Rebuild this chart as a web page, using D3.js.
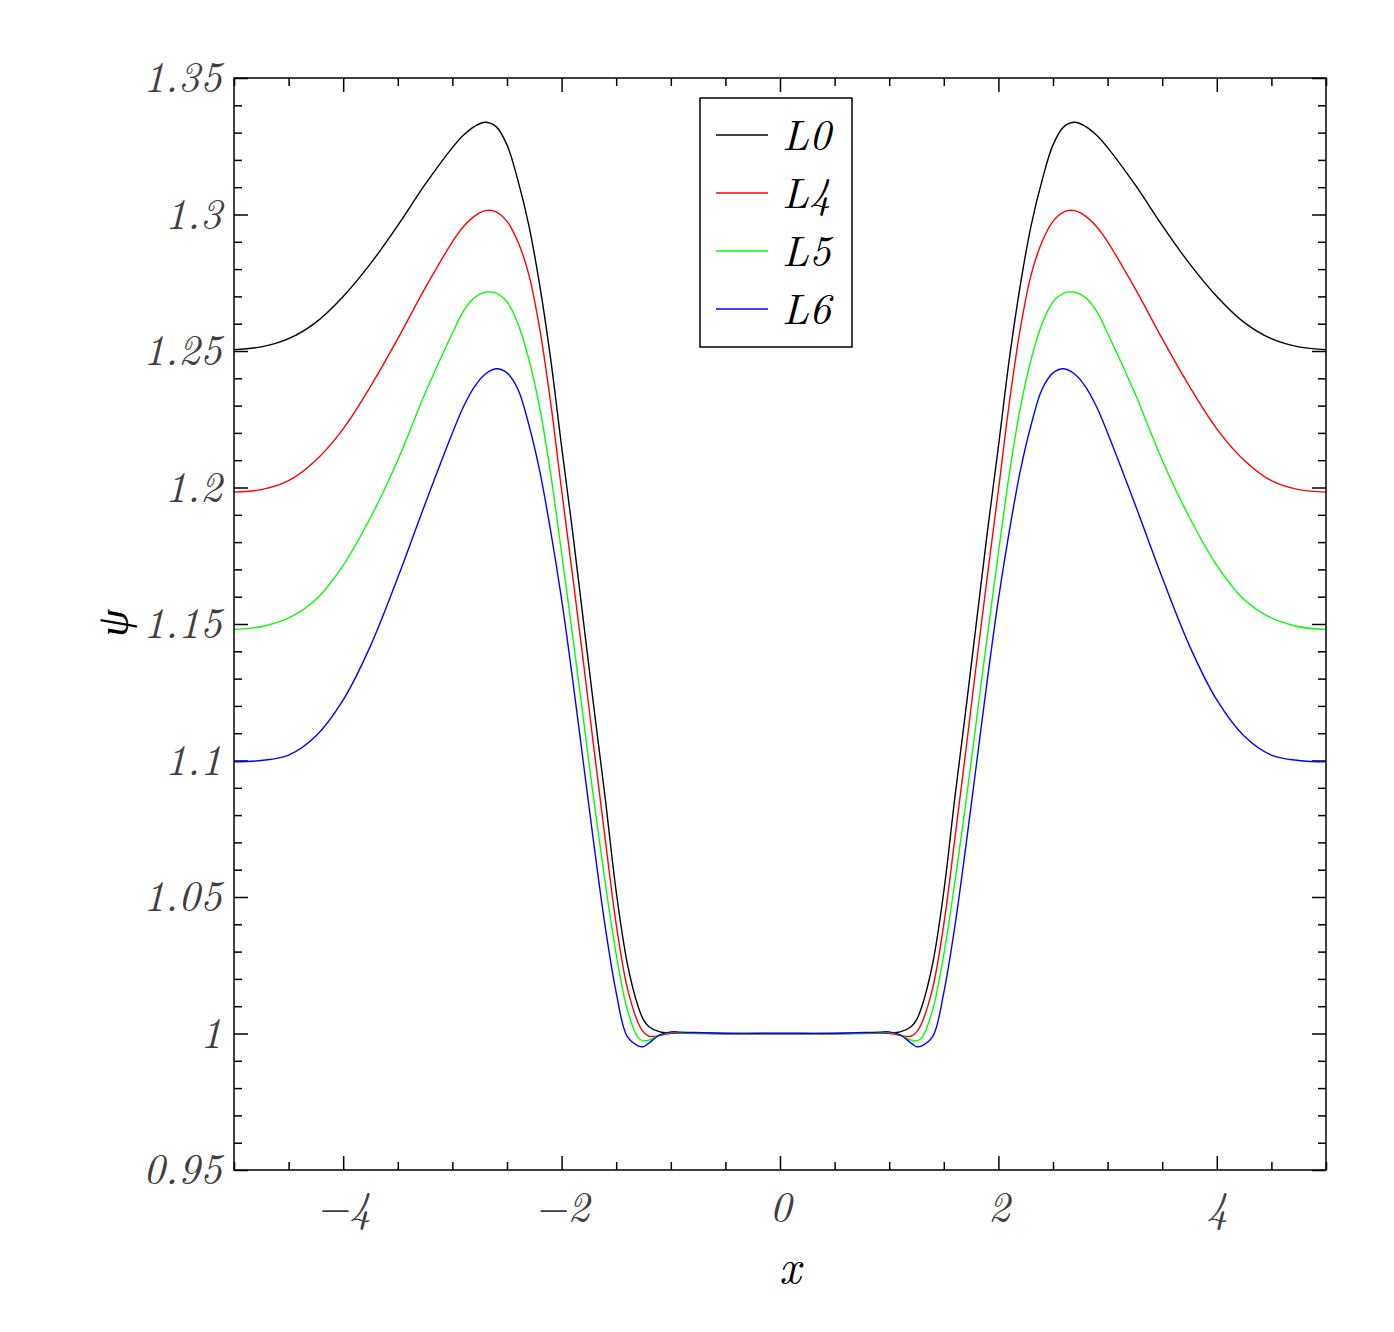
<!DOCTYPE html>
<html>
<head>
<meta charset="utf-8">
<script src="https://cdn.jsdelivr.net/npm/d3@7"></script>
<style>
  body { margin: 0; background: #fff; }
</style>
</head>
<body>
<div id="vis"></div>
<script>
// values
let xs = [-5, -4.75, -4.5, -4.25, -4, -3.75, -3.5, -3.25, -3, -2.9, -2.8, -2.7, -2.6, -2.5, -2.4, -2.3, -2.2, -2.1,
  -2, -1.9, -1.8, -1.7, -1.6, -1.5, -1.4, -1.3, -1.25, -1.2, -1.1, -1, -0.9, -0.5, 0, 0.5,
  0.9, 1, 1.1, 1.2, 1.25, 1.3, 1.4, 1.5, 1.6, 1.7, 1.8, 1.9, 2,
  2.1, 2.2, 2.3, 2.4, 2.5, 2.6, 2.7, 2.8, 2.9, 3, 3.25, 3.5, 3.75, 4, 4.25, 4.5, 4.75, 5]

let l0 = [1.2505, 1.2515, 1.2545, 1.2605, 1.2700, 1.2820, 1.2960, 1.3110, 1.3245, 1.3290, 1.3322, 1.3338, 1.3322, 1.3255, 1.3125, 1.2960, 1.2740, 1.2470,
  1.2150, 1.1840, 1.1510, 1.1180, 1.0860, 1.0520, 1.0260, 1.0100, 1.0050, 1.0025, 1.0006, 1.0002, 1.0001, 1.0000, 1.0000, 1.0000,
  1.0001, 1.0002, 1.0006, 1.0025, 1.0050, 1.0100, 1.0260, 1.0520, 1.0860, 1.1180, 1.1510, 1.1840, 1.2150,
  1.2470, 1.2740, 1.2960, 1.3125, 1.3255, 1.3322, 1.3338, 1.3322, 1.3290, 1.3245, 1.3110, 1.2960, 1.2820, 1.2700, 1.2605, 1.2545, 1.2515, 1.2505]

let l4 = [1.1983, 1.1992, 1.2025, 1.2100, 1.2215, 1.2370, 1.2545, 1.2730, 1.2900, 1.2955, 1.2993, 1.3014, 1.3010, 1.2975, 1.2900, 1.2780, 1.2580, 1.2310,
  1.1990, 1.1680, 1.1360, 1.1030, 1.0710, 1.0400, 1.0170, 1.0040, 1.0005, 0.9990, 0.9993, 1.0001, 1.0002, 1.0000, 1.0000, 1.0000,
  1.0002, 1.0001, 0.9993, 0.9990, 1.0005, 1.0040, 1.0170, 1.0400, 1.0710, 1.1030, 1.1360, 1.1680, 1.1990,
  1.2310, 1.2580, 1.2780, 1.2900, 1.2975, 1.3010, 1.3014, 1.2993, 1.2955, 1.2900, 1.2730, 1.2545, 1.2370, 1.2215, 1.2100, 1.2025, 1.1992, 1.1983]

let l5 = [1.1480, 1.1490, 1.1522, 1.1590, 1.1715, 1.1890, 1.2100, 1.2345, 1.2565, 1.2645, 1.2695, 1.2715, 1.2712, 1.2680, 1.2600, 1.2470, 1.2290, 1.2050,
  1.1760, 1.1460, 1.1150, 1.0840, 1.0550, 1.0290, 1.0090, 0.9985, 0.9973, 0.9976, 0.9995, 1.0004, 1.0003, 1.0000, 1.0000, 1.0000,
  1.0003, 1.0004, 0.9995, 0.9976, 0.9973, 0.9985, 1.0090, 1.0290, 1.0550, 1.0840, 1.1150, 1.1460, 1.1760,
  1.2050, 1.2290, 1.2470, 1.2600, 1.2680, 1.2712, 1.2715, 1.2695, 1.2645, 1.2565, 1.2345, 1.2100, 1.1890, 1.1715, 1.1590, 1.1522, 1.1490, 1.1480]

let l6 = [1.0995, 1.1000, 1.1020, 1.1090, 1.1222, 1.1420, 1.1670, 1.1940, 1.2200, 1.2295, 1.2368, 1.2415, 1.2435, 1.2420, 1.2360, 1.2230, 1.2060, 1.1840,
  1.1590, 1.1300, 1.0990, 1.0680, 1.0390, 1.0150, 0.9990, 0.9955, 0.9952, 0.9965, 0.9995, 1.0006, 1.0005, 1.0000, 1.0000, 1.0000,
  1.0005, 1.0006, 0.9995, 0.9965, 0.9952, 0.9955, 0.9990, 1.0150, 1.0390, 1.0680, 1.0990, 1.1300, 1.1590,
  1.1840, 1.2060, 1.2230, 1.2360, 1.2420, 1.2435, 1.2415, 1.2368, 1.2295, 1.2200, 1.1940, 1.1670, 1.1420, 1.1222, 1.1090, 1.1020, 1.1000, 1.0995]

let seriesNames = ['L0', 'L4', 'L5', 'L6']
let seriesValues = [l0, l4, l5, l6]
let seriesColors = ['#000000', '#ff0000', '#00ff00', '#0000ff']

let xMajor = [-4, -2, 0, 2, 4]
let xMinor = [-5, -4.5, -3.5, -3, -2.5, -1.5, -1, -0.5, 0.5, 1, 1.5, 2.5, 3, 3.5, 4.5, 5]
let yMajor = [0.95, 1, 1.05, 1.1, 1.15, 1.2, 1.25, 1.3, 1.35]
let yMinor = [0.96, 0.97, 0.98, 0.99, 1.01, 1.02, 1.03, 1.04, 1.06, 1.07, 1.08, 1.09, 1.11, 1.12, 1.13, 1.14,
  1.16, 1.17, 1.18, 1.19, 1.21, 1.22, 1.23, 1.24, 1.26, 1.27, 1.28, 1.29, 1.31, 1.32, 1.33, 1.34]

let fontStack = '"Latin Modern Roman", "Liberation Serif", serif'

// margins
let margin = { top: 78, left: 234, right: 68, bottom: 162 },
  width = 1394 - margin.left - margin.right,
  height = 1332 - margin.top - margin.bottom

let svg = d3.select('#vis')
  .append('svg')
  .attr('width', 1394)
  .attr('height', 1332)
  .style('background-color', 'white')

let g = svg.append('g')
  .attr('transform', `translate(${margin.left},${margin.top})`)

let x = d3.scaleLinear().domain([-5, 5]).range([0, width])
let y = d3.scaleLinear().domain([0.95, 1.35]).range([height, 0])

let fmt = d3.format('~g')
let labelColor = '#404040'

// axes, ticks pointing inward
function styleAxis(sel) {
  sel.attr('font-family', null).attr('font-size', null)
  sel.select('.domain').remove()
  sel.selectAll('line').attr('stroke', '#000').attr('stroke-width', 1.5)
  sel.selectAll('text')
    .attr('fill', labelColor)
    .style('font-size', '43px')
    .style('font-family', fontStack)
    .style('font-style', 'italic')
}

g.append('g').attr('transform', `translate(0,${height})`)
  .call(d3.axisBottom(x).tickValues(xMajor).tickSize(-14).tickSizeOuter(0).tickPadding(21).tickFormat(fmt))
  .call(styleAxis)
g.append('g').attr('transform', `translate(0,${height})`)
  .call(d3.axisBottom(x).tickValues(xMinor).tickSize(-8).tickSizeOuter(0).tickFormat(''))
  .call(styleAxis)
g.append('g')
  .call(d3.axisTop(x).tickValues(xMajor).tickSize(-14).tickSizeOuter(0).tickFormat(''))
  .call(styleAxis)
g.append('g')
  .call(d3.axisTop(x).tickValues(xMinor).tickSize(-8).tickSizeOuter(0).tickFormat(''))
  .call(styleAxis)

g.append('g')
  .call(d3.axisLeft(y).tickValues(yMajor).tickSize(-14).tickSizeOuter(0).tickPadding(12).tickFormat(fmt))
  .call(styleAxis)
g.append('g')
  .call(d3.axisLeft(y).tickValues(yMinor).tickSize(-8).tickSizeOuter(0).tickFormat(''))
  .call(styleAxis)
g.append('g').attr('transform', `translate(${width},0)`)
  .call(d3.axisRight(y).tickValues(yMajor).tickSize(-14).tickSizeOuter(0).tickFormat(''))
  .call(styleAxis)
g.append('g').attr('transform', `translate(${width},0)`)
  .call(d3.axisRight(y).tickValues(yMinor).tickSize(-8).tickSizeOuter(0).tickFormat(''))
  .call(styleAxis)

// clip so curves stay in the frame
g.append('clipPath').attr('id', 'clip')
  .append('rect').attr('width', width).attr('height', height)

let line = d3.line()
  .x((d, i) => x(xs[i]))
  .y(d => y(d))
  .curve(d3.curveCatmullRom.alpha(0.5))

g.append('g').attr('clip-path', 'url(#clip)')
  .selectAll('path')
  .data(seriesValues)
  .join('path')
  .attr('d', d => line(d))
  .attr('fill', 'none')
  .attr('stroke', (d, i) => seriesColors[i])
  .attr('stroke-width', 1.4)

// frame
g.append('rect')
  .attr('width', width)
  .attr('height', height)
  .attr('fill', 'none')
  .attr('stroke', '#000')
  .attr('stroke-width', 1.5)

// legend
let legend = svg.append('g').attr('transform', 'translate(700,98)')
legend.append('rect')
  .attr('width', 152)
  .attr('height', 249)
  .attr('fill', 'white')
  .attr('stroke', '#000')
  .attr('stroke-width', 1.5)

let rows = legend.selectAll('g.row')
  .data(seriesNames)
  .join('g')
  .attr('class', 'row')
  .attr('transform', (d, i) => `translate(0,${37 + i * 58})`)

rows.append('line')
  .attr('x1', 16).attr('x2', 68)
  .attr('stroke', (d, i) => seriesColors[i])
  .attr('stroke-width', 1.4)

rows.append('text')
  .attr('x', 82)
  .attr('y', 15)
  .attr('fill', '#000')
  .style('font-family', fontStack)
  .style('font-style', 'italic')
  .style('font-size', '43px')
  .text(d => d)

// axis titles
svg.append('text')
  .attr('x', margin.left + x(0) + 10)
  .attr('y', 1283)
  .attr('text-anchor', 'middle')
  .attr('fill', '#000')
  .style('font-family', fontStack)
  .style('font-style', 'italic')
  .style('font-size', '47px')
  .text('x')

svg.append('text')
  .attr('transform', 'translate(128,623) rotate(-90)')
  .attr('text-anchor', 'middle')
  .attr('fill', '#000')
  .style('font-family', fontStack)
  .style('font-style', 'italic')
  .style('font-size', '44px')
  .text('ψ')
</script>
</body>
</html>
